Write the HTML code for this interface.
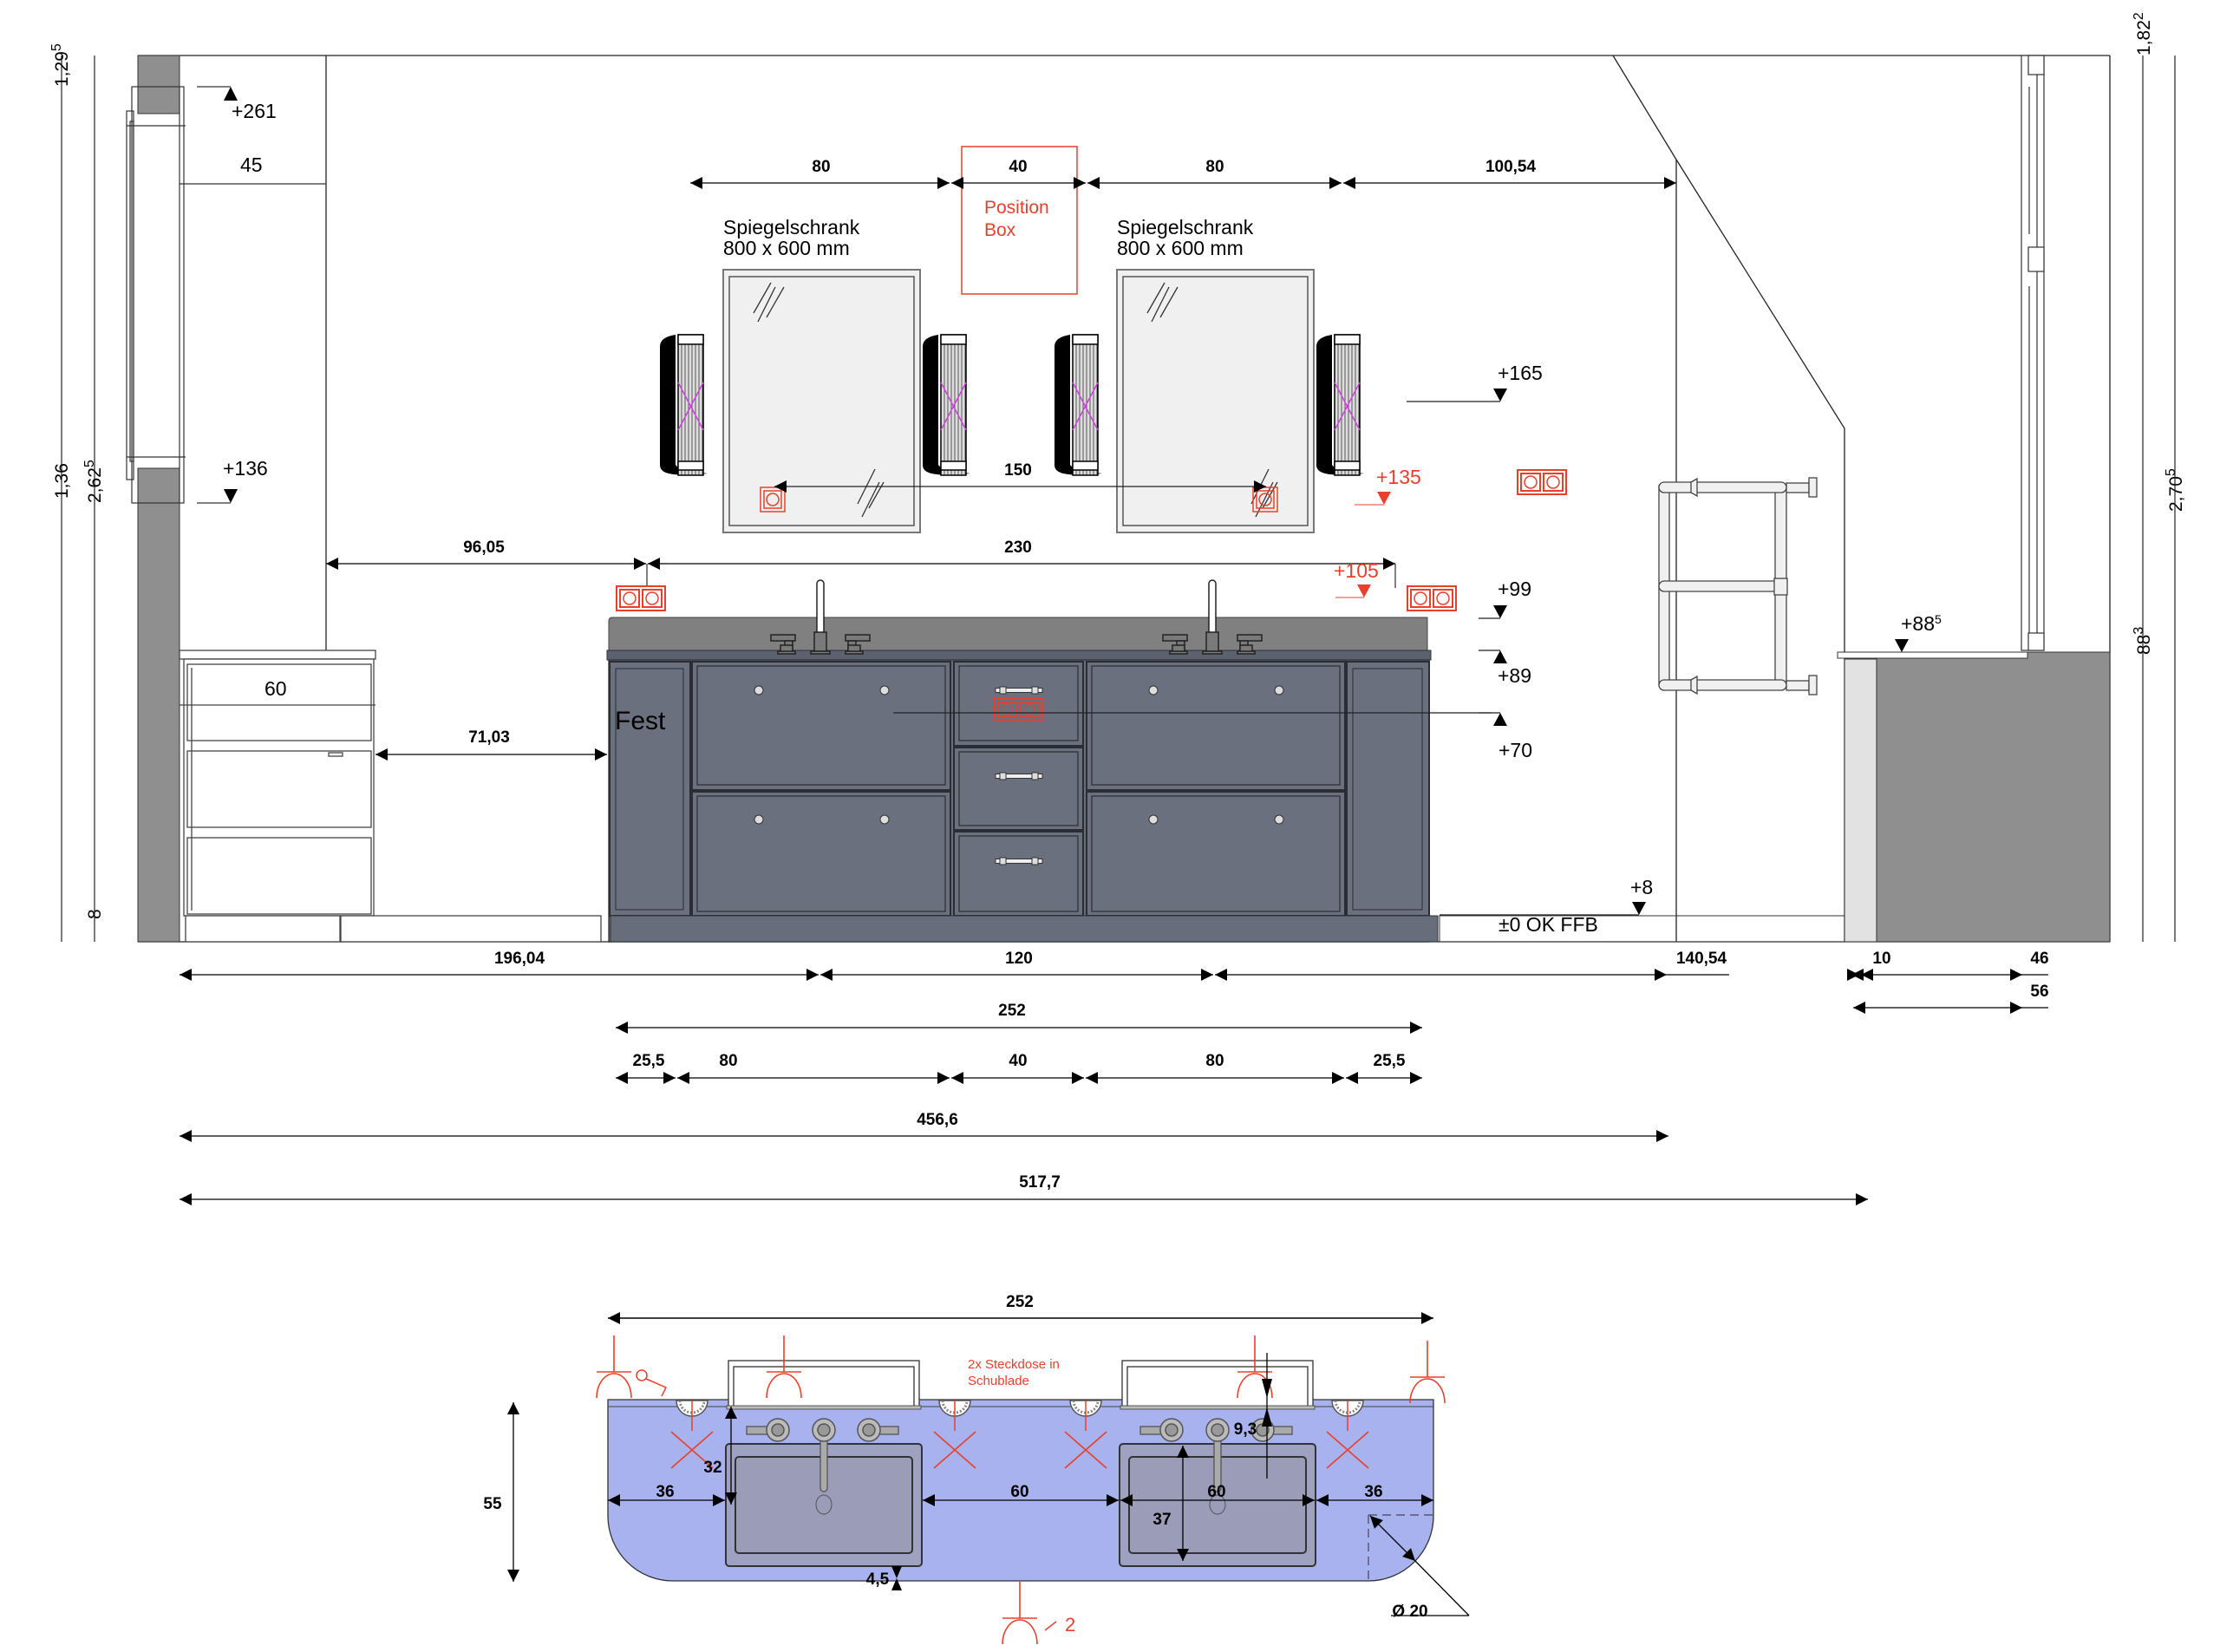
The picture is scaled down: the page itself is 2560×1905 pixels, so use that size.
<!DOCTYPE html>
<html><head><meta charset="utf-8"><style>
html,body{margin:0;padding:0;background:#fff}
svg{display:block}
text{font-family:"Liberation Sans",sans-serif}
.d{font-weight:bold;font-size:19px;text-anchor:middle}
.l{font-size:23px}
.r{fill:#e8402a}
</style></head><body>
<svg width="2560" height="1905" viewBox="0 0 2560 1905" xmlns="http://www.w3.org/2000/svg">
<defs>
<marker id="a" viewBox="0 0 10 10" refX="10" refY="5" markerWidth="28" markerHeight="14" markerUnits="userSpaceOnUse" orient="auto-start-reverse"><path d="M0,0 L10,5 L0,10z" fill="#000"/></marker>
<pattern id="st" width="4" height="10" patternUnits="userSpaceOnUse"><rect width="4" height="10" fill="#ddd"/><line x1="1" y1="0" x2="1" y2="10" stroke="#333" stroke-width="0.8"/></pattern>
<g id="lamp">
<path d="M18,0 C6,2 0,6 0,14 V150 C0,160 12,164 55,160 C40,158 22,156 18,150 Z" fill="#000"/>
<rect x="21" y="0" width="29" height="162" fill="url(#st)" stroke="#000" stroke-width="1.5"/>
<rect x="21" y="0" width="29" height="11" fill="#fff" stroke="#000" stroke-width="1.5"/>
<rect x="21" y="146" width="29" height="10" fill="#fff" stroke="#000" stroke-width="1.5"/>
<path d="M21,55 L50,110 M50,55 L21,110" stroke="#d040e0" stroke-width="1.5"/>
</g>
<g id="mirror">
<rect x="0" y="0" width="227" height="303" fill="#f0f0f0" stroke="#777" stroke-width="2"/>
<rect x="7" y="8" width="213" height="287" fill="none" stroke="#555" stroke-width="1.5"/>
<path d="M35,50 L55,15 M40,60 L60,20 M50,55 L70,20 M155,270 L175,230 M160,285 L180,245 M168,275 L185,245" stroke="#333" stroke-width="1.3"/>
</g>
<g id="sock2">
<rect x="0" y="0" width="56" height="28" fill="#fff" stroke="#e8402a" stroke-width="2"/>
<rect x="4" y="4" width="22" height="20" fill="none" stroke="#e8402a" stroke-width="2"/>
<rect x="30" y="4" width="22" height="20" fill="none" stroke="#e8402a" stroke-width="2"/>
<circle cx="41" cy="14" r="7" fill="none" stroke="#e8402a" stroke-width="1.5"/>
<circle cx="15" cy="14" r="7" fill="none" stroke="#e8402a" stroke-width="1.5"/>
</g>
<g id="faucet" stroke="#222" stroke-width="1.5" fill="#7a7a7a">
<rect x="-4" y="-80" width="8" height="80" rx="4" fill="#fff"/>
<rect x="-7" y="-20" width="14" height="22"/>
<rect x="-11" y="2" width="22" height="3"/>
<rect x="-57" y="-17" width="28" height="7"/><rect x="-41" y="-10" width="9" height="12"/><rect x="-46" y="-5" width="14" height="9"/><rect x="-49" y="2" width="20" height="3"/>
<rect x="29" y="-17" width="28" height="7"/><rect x="32" y="-10" width="9" height="12"/><rect x="32" y="-5" width="14" height="9"/><rect x="29" y="2" width="20" height="3"/>
</g>
<g id="knob"><circle r="5" fill="#ddd" stroke="#333" stroke-width="1"/></g>
<g id="handle"><rect x="-27" y="-2.5" width="54" height="5" fill="#eee" stroke="#333" stroke-width="1"/><rect x="-22" y="-4" width="7" height="8" fill="#ddd" stroke="#333"/><rect x="15" y="-4" width="7" height="8" fill="#ddd" stroke="#333"/></g>
<g id="pinsym" fill="none" stroke="#e8402a" stroke-width="1.6"><path d="M0,-50 V-8 M-20,-8 H20 M-20,22 A20,28 0 0 1 20,22"/></g>
<g id="outlet"><path d="M-18,0 A18,18 0 0 0 18,0 Z" fill="#fff" stroke="#555" stroke-width="1.5"/><path d="M-14,0 A14,14 0 0 0 14,0" fill="none" stroke="#888" stroke-width="3" stroke-dasharray="2 2"/><line x1="0" y1="0" x2="0" y2="35" stroke="#e8402a" stroke-width="1.5"/><path d="M-24,36 L24,78 M24,36 L-24,78" stroke="#e8402a" stroke-width="1.6"/></g>
<g id="tap"><circle r="13" fill="#bbb" stroke="#555" stroke-width="1.5"/><circle r="7" fill="#999" stroke="#555" stroke-width="1.5"/></g>
</defs>

<!-- ===== Elevation ===== -->
<g stroke="#222" stroke-width="1.3" fill="none">
<line x1="159" y1="64" x2="2433" y2="64"/>
<line x1="2433" y1="64" x2="2433" y2="1086"/>
<line x1="159" y1="1086" x2="2433" y2="1086"/>
<line x1="376" y1="64" x2="376" y2="750"/>
<polyline points="1860,64 1933,184 2127,494 2127,1086"/>
<line x1="1933" y1="184" x2="1933" y2="1086"/>
</g>
<!-- left wall -->
<rect x="159" y="64" width="48" height="67" fill="#8f8f8f" stroke="#333"/>
<rect x="159" y="540" width="48" height="546" fill="#8f8f8f" stroke="#333"/>
<g stroke="#333" stroke-width="1.2" fill="none">
<rect x="152" y="100" width="60" height="480"/>
<rect x="146" y="128" width="8" height="425"/>
<rect x="150" y="140" width="4" height="392"/>
<line x1="146" y1="145" x2="214" y2="145"/><line x1="146" y1="527" x2="214" y2="527"/>
<line x1="207" y1="100" x2="207" y2="580"/>
<line x1="207" y1="212" x2="376" y2="212"/>
<path d="M227,100 H266"/><path d="M227,580 H266"/>
</g>
<path d="M258,116 L274,116 L266,100Z" fill="#000"/>
<path d="M258,564 L274,564 L266,580Z" fill="#000"/>
<text x="267" y="136" class="l">+261</text>
<text x="277" y="198" class="l">45</text>
<text x="257" y="548" class="l">+136</text>

<!-- vertical dims left -->
<g stroke="#222" stroke-width="1.2"><line x1="71" y1="64" x2="71" y2="1086"/><line x1="109" y1="64" x2="109" y2="1086"/></g>
<g font-size="21">
<text transform="translate(78,100) rotate(-90)">1,29<tspan dy="-8" font-size="16">5</tspan></text>
<text transform="translate(78,575) rotate(-90)">1,36</text>
<text transform="translate(116,580) rotate(-90)">2,62<tspan dy="-8" font-size="16">5</tspan></text>
<text transform="translate(116,1060) rotate(-90)">8</text>
<text transform="translate(2479,64) rotate(-90)">1,82<tspan dy="-8" font-size="16">2</tspan></text>
<text transform="translate(2516,590) rotate(-90)">2,70<tspan dy="-8" font-size="16">5</tspan></text>
<text transform="translate(2479,755) rotate(-90)">88<tspan dy="-8" font-size="16">3</tspan></text>
</g>
<g stroke="#222" stroke-width="1.2"><line x1="2471" y1="64" x2="2471" y2="1086"/><line x1="2508" y1="64" x2="2508" y2="1086"/></g>

<!-- left cabinet -->
<g stroke="#444" stroke-width="1.3" fill="#fff">
<rect x="207" y="750" width="226" height="10"/>
<rect x="212" y="760" width="219" height="296"/>
<rect x="216" y="766" width="212" height="88"/>
<rect x="216" y="866" width="212" height="88"/>
<rect x="216" y="966" width="212" height="88"/>
<line x1="221" y1="770" x2="221" y2="1050"/>
<line x1="207" y1="813" x2="433" y2="813"/>
<rect x="379" y="868" width="16" height="4"/>
<rect x="214" y="1056" width="178" height="30"/>
<rect x="393" y="1056" width="300" height="30"/>
</g>
<text x="305" y="802" class="l">60</text>
<line x1="433" y1="870" x2="700" y2="870" stroke="#000" stroke-width="1.3" marker-start="url(#a)" marker-end="url(#a)"/>
<text x="564" y="856" class="d">71,03</text>

<!-- vanity -->
<path d="M702,716 Q702,712 706,712 H1646 V750 H702Z" fill="#808080" stroke="#444"/>
<rect x="700" y="750" width="950" height="11" fill="#5c6170" stroke="#333"/>
<rect x="702" y="761" width="946" height="325" fill="#676d7a" stroke="#333" stroke-width="1.3"/>
<g fill="#6a707d" stroke="#2a2d33" stroke-width="2">
<rect x="703" y="763" width="93" height="293"/>
<rect x="710" y="771" width="78" height="278" fill="none" stroke-width="1"/>
<rect x="798" y="763" width="298" height="148"/>
<rect x="804" y="768" width="286" height="137" fill="none" stroke-width="1.2"/>
<rect x="798" y="913" width="298" height="143"/>
<rect x="804" y="918" width="286" height="133" fill="none" stroke-width="1.2"/>
<rect x="1100" y="763" width="149" height="97"/>
<rect x="1106" y="768" width="137" height="86" fill="none" stroke-width="1.2"/>
<rect x="1100" y="862" width="149" height="95"/>
<rect x="1106" y="867" width="137" height="85" fill="none" stroke-width="1.2"/>
<rect x="1100" y="959" width="149" height="97"/>
<rect x="1106" y="964" width="137" height="87" fill="none" stroke-width="1.2"/>
<rect x="1253" y="763" width="298" height="148"/>
<rect x="1259" y="768" width="286" height="137" fill="none" stroke-width="1.2"/>
<rect x="1253" y="913" width="298" height="143"/>
<rect x="1259" y="918" width="286" height="133" fill="none" stroke-width="1.2"/>
<rect x="1553" y="763" width="95" height="293"/>
<rect x="1560" y="771" width="80" height="278" fill="none" stroke-width="1"/>
</g>
<rect x="704" y="1056" width="954" height="30" fill="#676d7a" stroke="#333"/>
<use href="#knob" x="875" y="796"/><use href="#knob" x="1020" y="796"/>
<use href="#knob" x="875" y="945"/><use href="#knob" x="1020" y="945"/>
<use href="#knob" x="1330" y="796"/><use href="#knob" x="1475" y="796"/>
<use href="#knob" x="1330" y="945"/><use href="#knob" x="1475" y="945"/>
<use href="#handle" x="1175" y="796"/><use href="#handle" x="1175" y="895"/><use href="#handle" x="1175" y="993"/>
<g transform="translate(1146,806)"><rect width="56" height="24" fill="none" stroke="#e8402a" stroke-width="2"/><rect x="4" y="4" width="22" height="16" fill="none" stroke="#e8402a" stroke-width="1.5"/><rect x="30" y="4" width="22" height="16" fill="none" stroke="#e8402a" stroke-width="1.5"/><circle cx="15" cy="12" r="6" fill="none" stroke="#e8402a"/><circle cx="41" cy="12" r="6" fill="none" stroke="#e8402a"/></g>
<line x1="1030" y1="822" x2="1720" y2="822" stroke="#222" stroke-width="1.3"/>
<text x="709" y="841" font-size="30">Fest</text>
<use href="#faucet" x="946" y="749"/>
<use href="#faucet" x="1398" y="749"/>

<!-- mirrors & lamps -->
<use href="#mirror" x="834" y="311"/>
<use href="#mirror" x="1288" y="311"/>
<use href="#lamp" x="761" y="386"/>
<use href="#lamp" x="1064" y="386"/>
<use href="#lamp" x="1216" y="386"/>
<use href="#lamp" x="1518" y="386"/>
<text x="834" y="270" class="l" font-size="21">Spiegelschrank</text>
<text x="834" y="294" class="l" font-size="21">800 x 600 mm</text>
<text x="1288" y="270" class="l" font-size="21">Spiegelschrank</text>
<text x="1288" y="294" class="l" font-size="21">800 x 600 mm</text>
<rect x="1109" y="169" width="133" height="170" fill="none" stroke="#e8402a" stroke-width="1.5"/>
<text x="1135" y="246" class="r" font-size="21">Position</text>
<text x="1135" y="272" class="r" font-size="21">Box</text>
<!-- mirror sockets -->
<g fill="none" stroke="#e8402a" stroke-width="1.5">
<rect x="877" y="562" width="28" height="28"/><rect x="881" y="566" width="20" height="20"/><circle cx="891" cy="576" r="7"/>
<rect x="1445" y="562" width="28" height="28"/><rect x="1449" y="566" width="20" height="20"/><circle cx="1459" cy="576" r="7"/>
</g>
<line x1="893" y1="561" x2="1460" y2="561" stroke="#222" stroke-width="1.3" marker-start="url(#a)" marker-end="url(#a)"/>
<text x="1174" y="548" class="d">150</text>

<!-- top dims -->
<g stroke="#000" stroke-width="1.3" marker-start="url(#a)" marker-end="url(#a)">
<line x1="796" y1="211" x2="1095" y2="211"/>
<line x1="1097" y1="211" x2="1252" y2="211"/>
<line x1="1254" y1="211" x2="1547" y2="211"/>
<line x1="1549" y1="211" x2="1933" y2="211"/>
<line x1="376" y1="650" x2="745" y2="650"/>
</g>
<line x1="747" y1="650" x2="1609" y2="650" stroke="#000" stroke-width="1.3" marker-start="url(#a)" marker-end="url(#a)"/>
<line x1="1609" y1="650" x2="1609" y2="678" stroke="#000"/>
<line x1="746" y1="650" x2="746" y2="676" stroke="#000"/>
<text x="947" y="198" class="d">80</text>
<text x="1174" y="198" class="d">40</text>
<text x="1401" y="198" class="d">80</text>
<text x="1742" y="198" class="d">100,54</text>
<text x="558" y="637" class="d">96,05</text>
<text x="1174" y="637" class="d">230</text>
<use href="#sock2" x="711" y="676"/>
<g transform="translate(1623,676) scale(-1,1) translate(-56,0)"><use href="#sock2"/></g>
<use href="#sock2" x="1750" y="542"/>

<!-- right side heights -->
<g stroke="#222" stroke-width="1.2">
<line x1="1622" y1="463" x2="1730" y2="463"/>
<line x1="1705" y1="713" x2="1730" y2="713"/>
<line x1="1705" y1="750" x2="1730" y2="750"/>
<line x1="1705" y1="822" x2="1730" y2="822"/>
<line x1="1660" y1="1055" x2="1890" y2="1055"/>
</g>
<g fill="#000">
<path d="M1722,448 L1738,448 L1730,463Z"/>
<path d="M1722,698 L1738,698 L1730,713Z"/>
<path d="M1722,765 L1738,765 L1730,750Z"/>
<path d="M1722,837 L1738,837 L1730,822Z"/>
<path d="M1882,1040 L1898,1040 L1890,1055Z"/>
<path d="M2185,737 L2201,737 L2193,752Z"/>
</g>
<path d="M1588,567 L1604,567 L1596,582Z" fill="#e8402a"/><line x1="1562" y1="582" x2="1596" y2="582" stroke="#e8402a"/>
<path d="M1565,674 L1581,674 L1573,689Z" fill="#e8402a"/><line x1="1540" y1="689" x2="1573" y2="689" stroke="#e8402a"/>
<text x="1727" y="438" class="l">+165</text>
<text x="1587" y="558" class="l r">+135</text>
<text x="1538" y="666" class="l r">+105</text>
<text x="1727" y="687" class="l">+99</text>
<text x="1727" y="787" class="l">+89</text>
<text x="1728" y="873" class="l">+70</text>
<text x="1880" y="1031" class="l">+8</text>
<text x="1728" y="1074" class="l">±0 OK FFB</text>
<text x="2192" y="727" class="l">+88<tspan dy="-8" font-size="14">5</tspan></text>
<rect x="1660" y="1056" width="467" height="30" fill="none" stroke="#333"/>

<!-- right wall -->
<rect x="2127" y="760" width="37" height="326" fill="#e2e2e2" stroke="#333"/>
<rect x="2164" y="752" width="269" height="334" fill="#8f8f8f" stroke="#333"/>
<rect x="2119" y="752" width="219" height="7" fill="#fff" stroke="#333"/>
<g stroke="#333" stroke-width="1.2" fill="#fff">
<rect x="2331" y="64" width="26" height="686"/>
<line x1="2340" y1="100" x2="2340" y2="270"/><line x1="2349" y1="64" x2="2349" y2="750"/>
<line x1="2340" y1="330" x2="2340" y2="740"/>
<rect x="2339" y="64" width="18" height="22"/><rect x="2339" y="285" width="18" height="28"/><rect x="2339" y="730" width="18" height="20"/>
</g>

<!-- towel rail -->
<g stroke="#444" stroke-width="1.3" fill="#f0f0f0">
<rect x="1913" y="560" width="12" height="230"/>
<rect x="2047" y="560" width="13" height="230"/>
<rect x="1913" y="556" width="147" height="12" rx="6"/>
<rect x="1913" y="670" width="147" height="12" rx="6"/>
<rect x="1913" y="784" width="147" height="12" rx="6"/>
<rect x="2046" y="667" width="15" height="19"/>
<rect x="2060" y="557" width="26" height="11"/><rect x="2086" y="551" width="9" height="22"/>
<rect x="2060" y="785" width="26" height="11"/><rect x="2086" y="779" width="9" height="22"/>
<path d="M1950,556 L1957,552 V572 L1950,568Z"/><path d="M1950,784 L1957,780 V800 L1950,796Z"/>
</g>

<!-- bottom dims -->
<g stroke="#000" stroke-width="1.3" marker-start="url(#a)" marker-end="url(#a)">
<line x1="207" y1="1124" x2="944" y2="1124"/>
<line x1="946" y1="1124" x2="1399" y2="1124"/>
<line x1="1401" y1="1124" x2="1922" y2="1124"/>
<line x1="2135" y1="1124" x2="2144" y2="1124"/>
<line x1="2146" y1="1124" x2="2332" y2="1124"/>
<line x1="2137" y1="1162" x2="2332" y2="1162"/>
<line x1="710" y1="1185" x2="1640" y2="1185"/>
<line x1="710" y1="1243" x2="779" y2="1243"/>
<line x1="781" y1="1243" x2="1095" y2="1243"/>
<line x1="1097" y1="1243" x2="1250" y2="1243"/>
<line x1="1252" y1="1243" x2="1550" y2="1243"/>
<line x1="1552" y1="1243" x2="1640" y2="1243"/>
<line x1="207" y1="1310" x2="1924" y2="1310"/>
<line x1="207" y1="1383" x2="2154" y2="1383"/>
</g>
<g stroke="#000" stroke-width="1.3"><line x1="1922" y1="1124" x2="1994" y2="1124"/><line x1="2330" y1="1124" x2="2362" y2="1124"/><line x1="2330" y1="1162" x2="2362" y2="1162"/></g>
<text x="599" y="1111" class="d">196,04</text>
<text x="1175" y="1111" class="d">120</text>
<text x="1962" y="1111" class="d">140,54</text>
<text x="2170" y="1111" class="d">10</text>
<text x="2352" y="1111" class="d">46</text>
<text x="2352" y="1149" class="d">56</text>
<text x="1167" y="1171" class="d">252</text>
<text x="748" y="1229" class="d">25,5</text>
<text x="840" y="1229" class="d">80</text>
<text x="1174" y="1229" class="d">40</text>
<text x="1401" y="1229" class="d">80</text>
<text x="1602" y="1229" class="d">25,5</text>
<text x="1081" y="1297" class="d">456,6</text>
<text x="1199" y="1369" class="d">517,7</text>

<!-- ===== Plan view ===== -->
<line x1="701" y1="1520" x2="1653" y2="1520" stroke="#000" stroke-width="1.5" marker-start="url(#a)" marker-end="url(#a)"/>
<text x="1176" y="1507" class="d">252</text>
<text x="1116" y="1578" class="r" font-size="15">2x Steckdose in</text>
<text x="1116" y="1597" class="r" font-size="15">Schublade</text>
<path d="M701,1614 H1653 V1748 A75,75 0 0 1 1578,1823 H776 A75,75 0 0 1 701,1748 Z" fill="#a8b2ee" stroke="#333" stroke-width="1.3"/>
<line x1="701" y1="1622" x2="1653" y2="1622" stroke="#444"/>
<g fill="#fff" stroke="#333" stroke-width="1.3">
<rect x="840" y="1569" width="220" height="53"/><rect x="846" y="1576" width="208" height="46"/>
<rect x="1294" y="1569" width="220" height="53"/><rect x="1300" y="1576" width="208" height="46"/>
</g>
<rect x="838" y="1621" width="224" height="4" fill="#bbb" stroke="#555"/>
<rect x="1292" y="1621" width="224" height="4" fill="#bbb" stroke="#555"/>
<use href="#outlet" x="798" y="1615"/><use href="#outlet" x="1101" y="1615"/>
<use href="#outlet" x="1252" y="1615"/><use href="#outlet" x="1554" y="1615"/>
<g stroke="#333" stroke-width="2">
<rect x="837" y="1665" width="226" height="141" rx="4" fill="#9ea2c0"/>
<rect x="848" y="1680" width="204" height="111" rx="4" fill="#9a9cb8"/>
<rect x="1291" y="1665" width="226" height="141" rx="4" fill="#9ea2c0"/>
<rect x="1302" y="1680" width="204" height="111" rx="4" fill="#9a9cb8"/>
</g>
<g fill="#aaa" stroke="#555" stroke-width="1.3">
<rect x="861" y="1645" width="32" height="9"/><rect x="1002" y="1645" width="34" height="9"/>
<rect x="1315" y="1645" width="32" height="9"/><rect x="1456" y="1645" width="34" height="9"/>
<rect x="946" y="1650" width="8" height="70" rx="4"/><rect x="1400" y="1650" width="8" height="70" rx="4"/>
</g>
<use href="#tap" x="897" y="1649"/><use href="#tap" x="950" y="1649"/><use href="#tap" x="1002" y="1649"/>
<use href="#tap" x="1351" y="1649"/><use href="#tap" x="1404" y="1649"/><use href="#tap" x="1456" y="1649"/>
<ellipse cx="950" cy="1735" rx="9" ry="11" fill="none" stroke="#555"/>
<ellipse cx="1404" cy="1735" rx="9" ry="11" fill="none" stroke="#555"/>
<!-- red symbols -->
<use href="#pinsym" x="708" y="1590"/>
<circle cx="740" cy="1586" r="6" fill="none" stroke="#e8402a" stroke-width="1.5"/><path d="M745,1590 L768,1600 L763,1610" fill="none" stroke="#e8402a" stroke-width="1.5"/>
<use href="#pinsym" x="904" y="1590"/>
<use href="#pinsym" x="1447" y="1590"/>
<use href="#pinsym" x="1646" y="1596"/>
<use href="#pinsym" x="1176" y="1874"/>
<path d="M1205,1880 L1218,1870" stroke="#e8402a" stroke-width="1.5"/>
<text x="1228" y="1881" class="r" font-size="22">2</text>
<!-- plan dims -->
<g stroke="#000" stroke-width="1.3" marker-start="url(#a)" marker-end="url(#a)">
<line x1="701" y1="1730" x2="836" y2="1730"/>
<line x1="1064" y1="1730" x2="1290" y2="1730"/>
<line x1="1292" y1="1730" x2="1516" y2="1730"/>
<line x1="1518" y1="1730" x2="1653" y2="1730"/>
<line x1="843" y1="1622" x2="843" y2="1735"/>
<line x1="1364" y1="1667" x2="1364" y2="1800"/>
<line x1="592" y1="1617" x2="592" y2="1824"/>
<line x1="1580" y1="1748" x2="1632" y2="1800"/>
</g>
<g stroke="#000" stroke-width="1.3"><line x1="1461" y1="1560" x2="1461" y2="1705"/><line x1="1632" y1="1800" x2="1694" y2="1863"/><line x1="1604" y1="1863" x2="1694" y2="1863"/></g>
<path d="M1455,1590 L1467,1590 L1461,1612Z M1455,1645 L1467,1645 L1461,1623Z" fill="#000"/>
<path d="M1028,1806 L1040,1806 L1034,1820 L1040,1834 L1028,1834 L1034,1820Z" fill="#000"/>
<path d="M1578,1747 H1653 M1578,1747 V1823" stroke="#445" stroke-width="1.2" stroke-dasharray="10 6" fill="none"/>
<text x="767" y="1726" class="d">36</text>
<text x="1176" y="1726" class="d">60</text>
<text x="1403" y="1726" class="d">60</text>
<text x="1584" y="1726" class="d">36</text>
<text x="822" y="1698" class="d">32</text>
<text x="1436" y="1654" class="d">9,3</text>
<text x="1340" y="1758" class="d">37</text>
<text x="1012" y="1827" class="d">4,5</text>
<text x="568" y="1740" class="d">55</text>
<text x="1626" y="1864" class="d">Ø 20</text>
</svg>
</body></html>
